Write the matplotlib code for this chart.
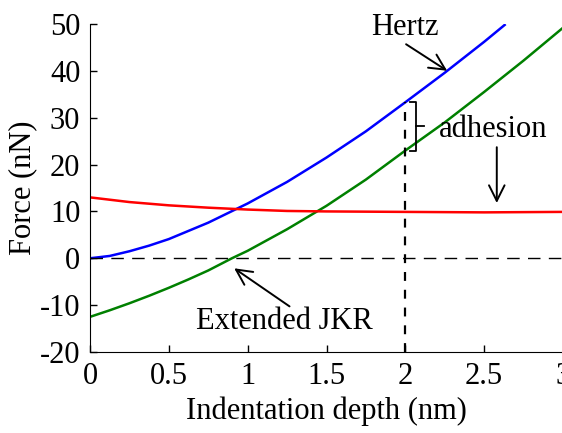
import numpy as np
import matplotlib.pyplot as plt

plt.rcParams['font.family'] = ['Liberation Serif', 'DejaVu Serif']
plt.rcParams['axes.unicode_minus'] = False

# Hertz model (blue)
hertz_x = [0, 0.125, 0.25, 0.375, 0.5, 0.75, 1.0, 1.25, 1.5, 1.75, 2.0, 2.25, 2.5, 2.63]
hertz_y = [0, 0.5, 1.5, 2.7, 4.1, 7.6, 11.7, 16.3, 21.5, 27.1, 33.3, 39.6, 46.2, 49.8]

# Extended JKR (green)
jkr_x = [0, 0.125, 0.25, 0.375, 0.5, 0.625, 0.75, 0.9, 1.0, 1.25, 1.5, 1.75, 2.0,
         2.25, 2.5, 2.75, 3.0]
jkr_y = [-12.5, -11.1, -9.6, -8.0, -6.3, -4.5, -2.6, 0, 1.6, 6.2, 11.2, 16.8, 23.0,
         29.0, 35.5, 42.2, 49.2]

# adhesion (red)
adh_x = [0, 0.25, 0.5, 0.75, 1.0, 1.25, 1.5, 2.0, 2.5, 3.0]
adh_y = [13.0, 12.0, 11.3, 10.8, 10.4, 10.1, 10.0, 9.9, 9.8, 9.9]

fs = 22

fig = plt.figure(figsize=(5.62, 4.33), dpi=100)
ax = fig.add_axes([90/562, 81/433, 473/562, 328/433])

ax.plot(hertz_x, hertz_y, color='blue', lw=1.8)
ax.plot(jkr_x, jkr_y, color='green', lw=1.8)
ax.plot(adh_x, adh_y, color='red', lw=1.8)

# reference lines
ax.axhline(0, color='black', lw=1.0, dashes=(9, 6))
ax.plot([2, 2], [-20, 33.3], color='black', lw=1.6, dashes=(4, 4))

# bracket between curves at x=2
bx = [2.03, 2.07, 2.07, 2.03]
by = [33.3, 33.3, 23.0, 23.0]
ax.plot(bx, by, color='black', lw=1.3)
ax.plot([2.07, 2.12], [28.2, 28.2], color='black', lw=1.3)

arrow = dict(arrowstyle='->', color='black', lw=1.4, mutation_scale=28)
ax.text(2.0, 49.3, 'Hertz', fontsize=fs, ha='center', va='center')
ax.annotate('', xy=(2.28, 39.7), xytext=(1.99, 46.0), arrowprops=arrow)
ax.text(2.21, 27.4, 'adhesion', fontsize=fs, ha='left', va='center')
ax.annotate('', xy=(2.58, 11.2), xytext=(2.58, 24.3), arrowprops=arrow)
ax.text(1.23, -13.4, 'Extended JKR', fontsize=fs, ha='center', va='center')
ax.annotate('', xy=(0.9, -1.8), xytext=(1.28, -10.6), arrowprops=arrow)

ax.set_xlim(0, 3)
ax.set_ylim(-20, 50)
ax.set_xticks([0, 0.5, 1, 1.5, 2, 2.5, 3])
ax.set_xticklabels(['0', '0.5', '1', '1.5', '2', '2.5', '3'])
ax.set_yticks(range(-20, 51, 10))
ax.tick_params(direction='in', labelsize=fs, length=5, width=1, pad=7)
ax.spines['top'].set_visible(False)
ax.spines['right'].set_visible(False)
ax.set_xlabel('Indentation depth (nm)', fontsize=fs, labelpad=4)
ax.set_ylabel('Force (nN)', fontsize=fs, labelpad=2)

fig.savefig('out.png', dpi=100)
